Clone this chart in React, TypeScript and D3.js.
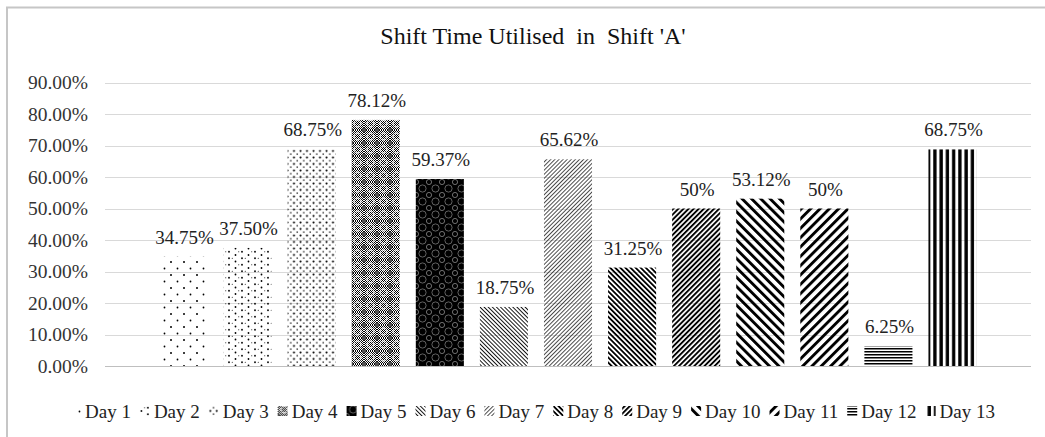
import React from 'react';
import * as d3 from 'd3';

const days = ['Day 1', 'Day 2', 'Day 3', 'Day 4', 'Day 5', 'Day 6', 'Day 7', 'Day 8', 'Day 9', 'Day 10', 'Day 11', 'Day 12', 'Day 13'];
const utilised = [34.75, 37.5, 68.75, 78.12, 59.37, 18.75, 65.62, 31.25, 50, 53.12, 50, 6.25, 68.75];
const valueLabels = ['34.75%', '37.50%', '68.75%', '78.12%', '59.37%', '18.75%', '65.62%', '31.25%', '50%', '53.12%', '50%', '6.25%', '68.75%'];
const yTicks = [0, 10, 20, 30, 40, 50, 60, 70, 80, 90];

const FONT = '"Liberation Serif", "Times New Roman", serif';
const W = 1045, H = 437;

// one fill pattern per day, same order as days
const patternIds = ['p1', 'p2', 'p3', 'p4', 'p5', 'p6', 'p7', 'p8', 'p9', 'p10', 'p11', 'p12', 'p13'];

function measure(text: string, size: number) {
    const c = document.createElement('canvas').getContext('2d');
    if (!c) return text.length * size * 0.5;
    c.font = `${size}px ${FONT}`;
    return c.measureText(text).width;
}

function Patterns() {
    const diag = (id: string, gap: number, lw: number, angle: number, color = '#000') => (
        <pattern id={id} width={gap} height={gap} patternUnits="userSpaceOnUse" patternTransform={`rotate(${angle})`}>
            <rect x={0} y={0} width={lw} height={gap} fill={color} />
        </pattern>
    );
    const corners = [[0, 0], [13, 0], [0, 13], [13, 13]];
    return (
        <defs>
            <pattern id="chk" width={2} height={2} patternUnits="userSpaceOnUse">
                <rect x={0} y={0} width={1} height={1} fill="#000" />
                <rect x={1} y={1} width={1} height={1} fill="#000" />
            </pattern>
            <pattern id="p1" width={13} height={13} patternUnits="userSpaceOnUse">
                <circle cx={2} cy={2} r={1} fill="#000" />
                <circle cx={8.5} cy={8.5} r={0.9} fill="#000" />
            </pattern>
            <pattern id="p2" width={13} height={13} patternUnits="userSpaceOnUse">
                <circle cx={1.5} cy={1.5} r={0.9} fill="#000" />
                <circle cx={8} cy={4.75} r={0.9} fill="#000" />
                <circle cx={1.5} cy={8} r={0.9} fill="#000" />
                <circle cx={8} cy={11.25} r={0.9} fill="#000" />
                <circle cx={4.75} cy={4.75} r={0.5} fill="#000" />
                <circle cx={11.25} cy={11.25} r={0.5} fill="#000" />
            </pattern>
            <pattern id="p3" width={6.5} height={6.5} patternUnits="userSpaceOnUse">
                <circle cx={1.5} cy={1.5} r={1.05} fill="#000" />
                <circle cx={4.75} cy={4.75} r={0.75} fill="#000" />
            </pattern>
            <pattern id="p4" width={13} height={13} patternUnits="userSpaceOnUse">
                <rect width={13} height={13} fill="url(#chk)" />
                <circle cx={6.5} cy={6.5} r={3.6} fill="none" stroke="#fff" strokeWidth={0.9} />
                {corners.map(([cx, cy], i) => (
                    <circle key={i} cx={cx} cy={cy} r={2.2} fill="#555" />
                ))}
            </pattern>
            <pattern id="p5" width={13} height={13} patternUnits="userSpaceOnUse">
                <rect width={13} height={13} fill="#000" />
                <circle cx={6.5} cy={6.5} r={3.6} fill="url(#chk)" stroke="#888" strokeWidth={0.7} />
                {corners.map(([cx, cy], i) => (
                    <circle key={i} cx={cx} cy={cy} r={2.6} fill="none" stroke="#999" strokeWidth={0.7} />
                ))}
            </pattern>
            {diag('p6', 2.9, 0.9, -45)}
            {diag('p7', 2.9, 0.8, 45, '#222')}
            {diag('p8', 3.6, 1.8, -45)}
            {diag('p9', 3.6, 1.9, 45)}
            {diag('p10', 6.6, 2.9, -45)}
            {diag('p11', 6.6, 2.9, 45)}
            <pattern id="p12" width={3} height={3} patternUnits="userSpaceOnUse">
                <rect x={0} y={0} width={3} height={1.5} fill="#000" />
            </pattern>
            <pattern id="p13" width={6.25} height={6.25} patternUnits="userSpaceOnUse">
                <rect x={2} y={0} width={3.3} height={6.25} fill="#000" />
            </pattern>
        </defs>
    );
}

export default function App() {
    const plotLeft = 105, plotRight = 1031;
    const x = d3.scaleBand<string>()
        .domain(days)
        .range([plotLeft, plotRight])
        .paddingInner(0.25)
        .paddingOuter(0.85);
    const y = d3.scaleLinear().domain([0, 90]).range([366, 82.5]);
    const fmt = (v: number) => d3.format('.2f')(v) + '%';

    // legend layout
    const legendSize = 19;
    const entryW = days.map(d => 10 + 4 + measure(d, legendSize) + 9);
    const legendTotal = d3.sum(entryW) - 9;
    let lx = 533 - legendTotal / 2;
    const legendX = entryW.map(w => { const p = lx; lx += w; return p; });

    return (
        <svg width={W} height={H} style={{ position: 'absolute', left: 0, top: 0 }} fontFamily={FONT}>
            <Patterns />
            <rect x={0} y={0} width={W} height={H} fill="#fff" />
            <rect x={7} y={7.5} width={W + 20} height={H + 20} fill="none" stroke="#c6c6c6" strokeWidth={2} />

            <text x={533} y={44} textAnchor="middle" fontSize={24} style={{ whiteSpace: 'pre' }} fill="#111">
                {"Shift Time Utilised  in  Shift 'A'"}
            </text>

            {/* gridlines and y labels */}
            {yTicks.map(t => (
                <g key={t}>
                    <line x1={plotLeft} x2={plotRight} y1={Math.round(y(t)) + 0.5} y2={Math.round(y(t)) + 0.5}
                        stroke={t === 0 ? '#bfbfbf' : '#d9d9d9'} strokeWidth={1} />
                    <text x={88} y={y(t) + 6.5} textAnchor="end" fontSize={19.5} fill="#333">{fmt(t)}</text>
                </g>
            ))}

            {/* bars */}
            {days.map((d, i) => (
                <rect key={d} x={x(d)} y={y(utilised[i])} width={x.bandwidth()} height={y(0) - y(utilised[i])}
                    fill={`url(#${patternIds[i]})`} />
            ))}

            {/* value labels */}
            {days.map((d, i) => (
                <text key={d} x={(x(d) || 0) + x.bandwidth() / 2 + 1} y={y(utilised[i]) - 13}
                    textAnchor="middle" fontSize={19} fill="#222">{valueLabels[i]}</text>
            ))}

            {/* legend */}
            {days.map((d, i) => (
                <g key={d} transform={`translate(${legendX[i]},0)`}>
                    <rect x={0} y={406} width={10} height={10} fill={`url(#${patternIds[i]})`} />
                    <text x={14} y={418} fontSize={legendSize} fill="#222">{d}</text>
                </g>
            ))}
        </svg>
    );
}
